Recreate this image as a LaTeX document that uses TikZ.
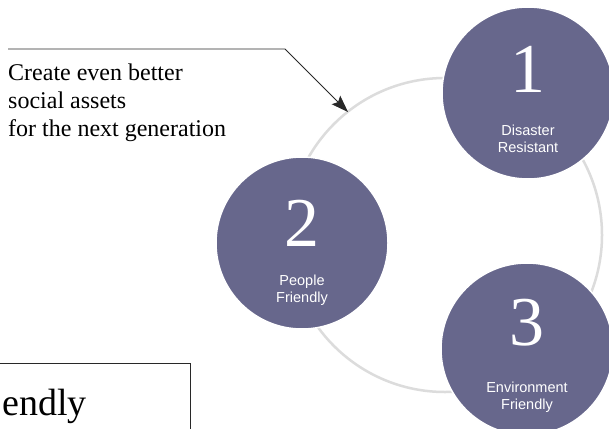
\documentclass[tikz,border=0pt]{standalone}
\usepackage{fontspec}
\setmainfont{Liberation Serif}
\newfontfamily\sansf{Liberation Sans}
\usetikzlibrary{arrows.meta}
\definecolor{disc}{RGB}{103,103,140}
\definecolor{ringc}{RGB}{220,220,220}
\definecolor{linec}{RGB}{40,40,40}
\begin{document}
\begin{tikzpicture}[x=1pt,y=-1pt,
  discnode/.style={circle, fill=disc, draw=white, line width=1.5pt, minimum size=172pt, inner sep=0pt},
  numnode/.style={text=white, font=\fontsize{70}{70}\selectfont, inner sep=0pt, anchor=base},
  labnode/.style={text=white, font=\sansf\fontsize{14.5}{17}\selectfont, align=center, inner sep=0pt, anchor=base},
  capnode/.style={font=\fontsize{24}{28}\selectfont, align=left, inner sep=0pt, anchor=base west},
  ringline/.style={draw=ringc, line width=2.5pt},
  pointer/.style={draw=linec, line width=0.8pt, -{Stealth[length=17pt,width=12pt,inset=3pt]}},
  boxline/.style={draw=linec, line width=0.8pt}]
\useasboundingbox (0,0) rectangle (609,428);
\clip (0,0) rectangle (609,428);
\fill[white] (0,0) rectangle (609,428);
% ring
\draw[ringline] (445,235) circle[radius=157];
% discs
\node[discnode] (d1) at (528,93) {};
\node[discnode] (d2) at (302,243) {};
\node[discnode] (d3) at (527,349) {};
\node[numnode] (n1) at (528,92) {1};
\node[numnode] (n2) at (302,246) {2};
\node[numnode] (n3) at (527,345) {3};
\node[labnode] (l1) at (528,152) {Disaster\\Resistant};
\node[labnode] (l2) at (302,302) {People\\Friendly};
\node[labnode] (l3) at (527,409) {Environment\\Friendly};
% caption and pointer
\node[capnode] (cap) at (8,136) {Create even better\\social assets\\for the next generation};
\coordinate (ps) at (8,49);
\coordinate (pk) at (285,49);
\coordinate (pt) at (348,112);
\draw[pointer] (ps) -- (pk) -- (pt);
% bottom box
\draw[boxline] (-5,363) rectangle (190,445);
\node[font=\fontsize{38}{38}\selectfont, inner sep=0pt, anchor=base west] (fr) at (2,415) {endly};
\end{tikzpicture}
\end{document}
